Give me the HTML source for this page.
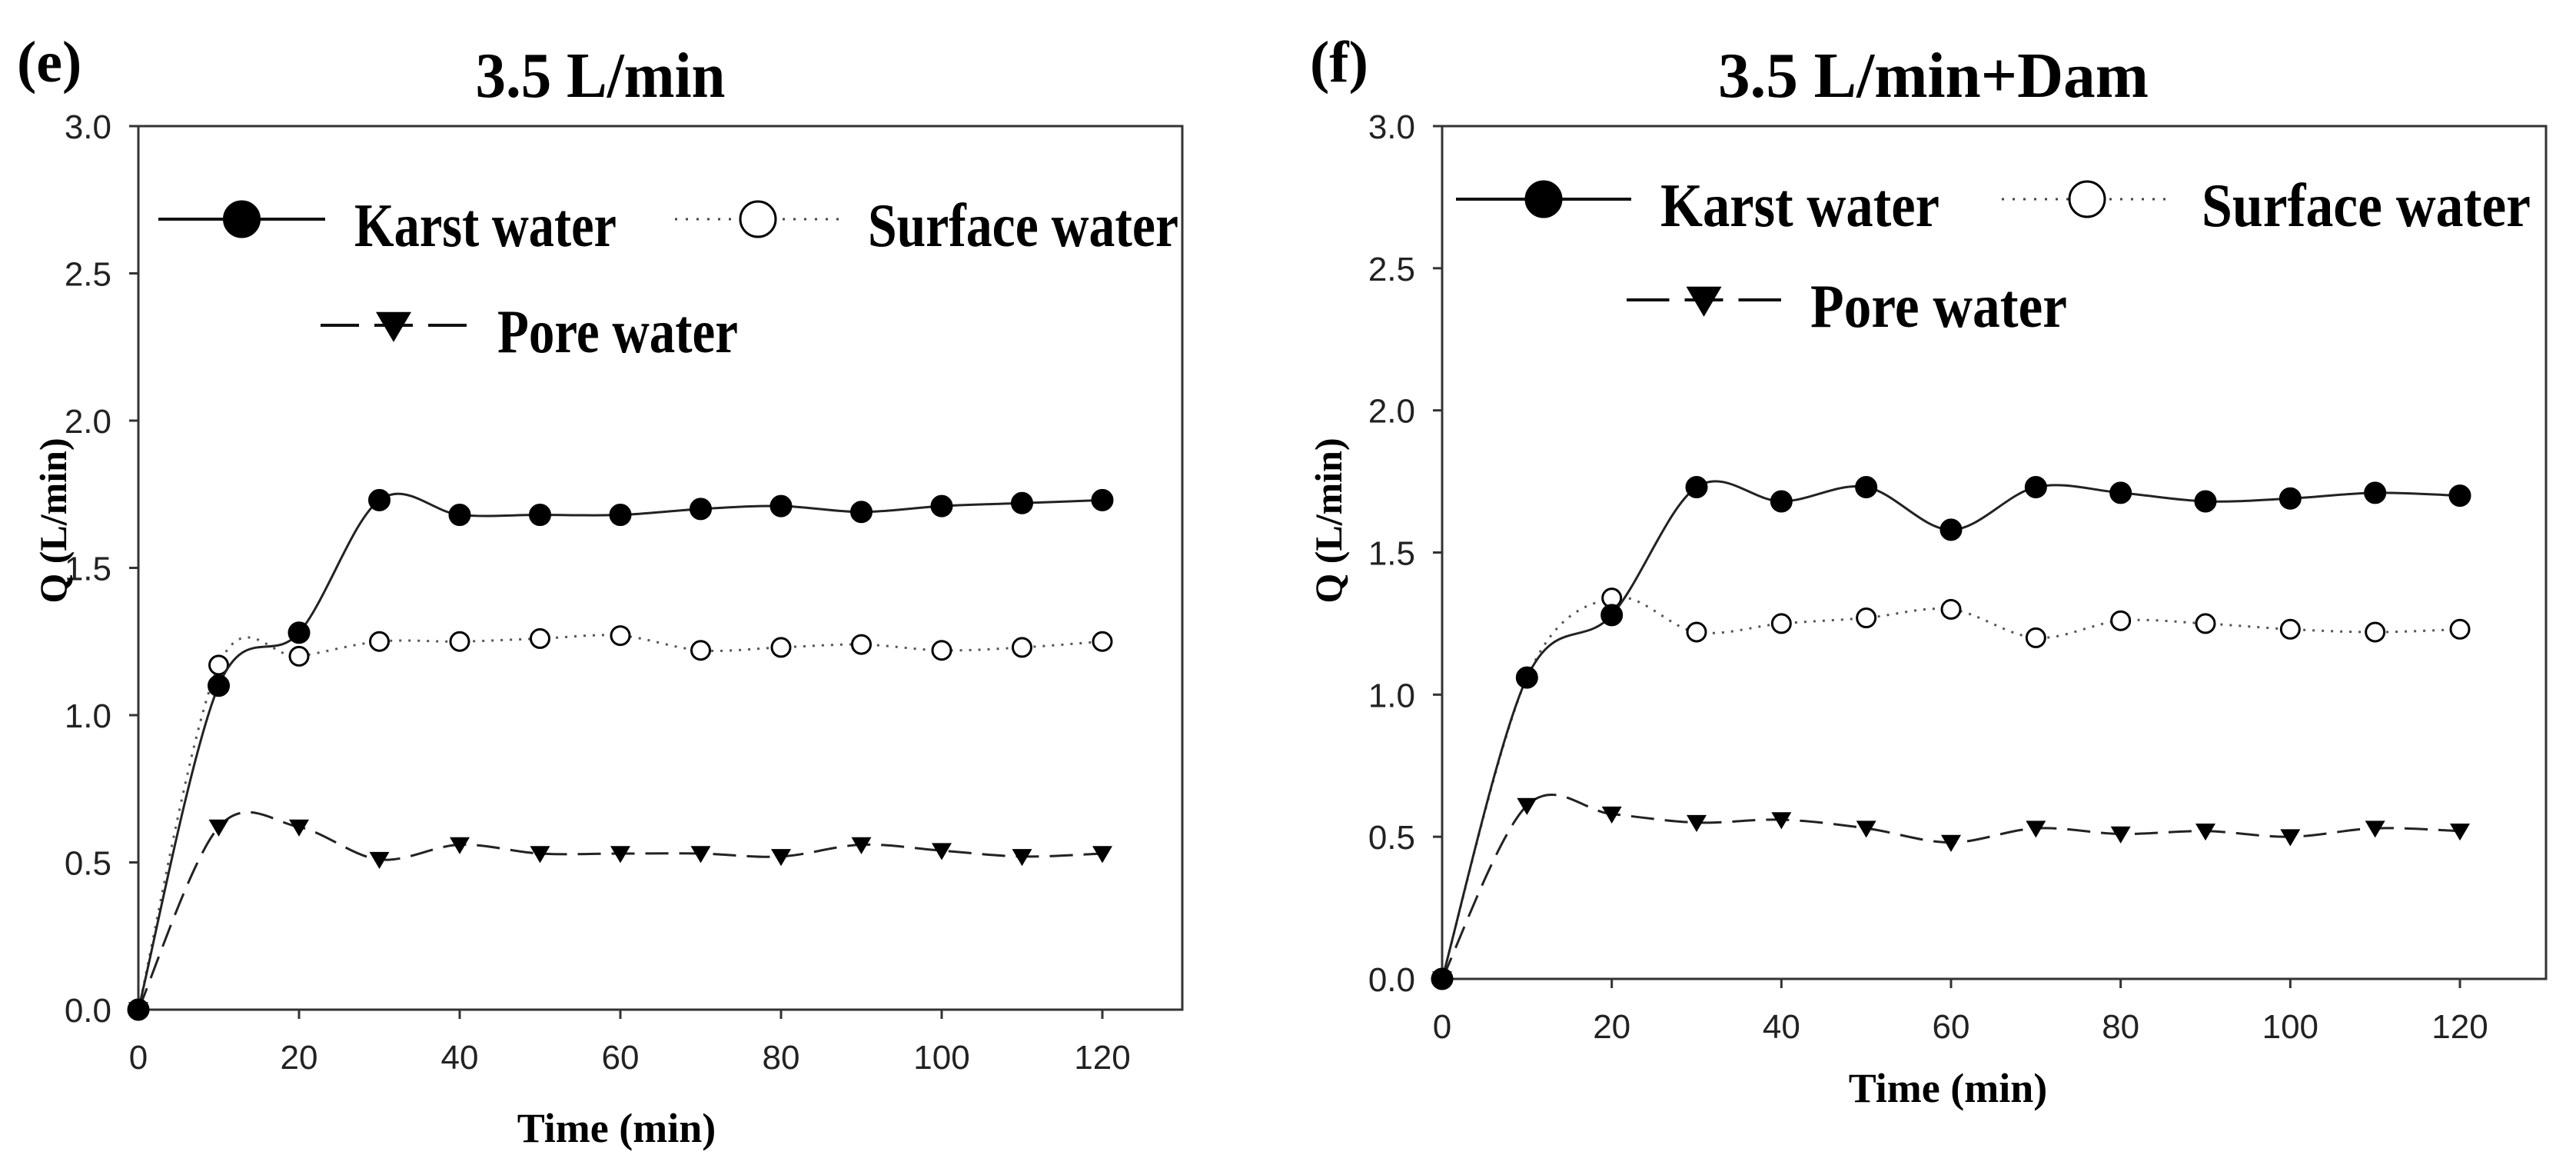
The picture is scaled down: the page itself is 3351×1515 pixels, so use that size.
<!DOCTYPE html>
<html><head><meta charset="utf-8"><style>
html,body{margin:0;padding:0;background:#fff;}
svg{display:block;}
.tick{font-family:"Liberation Sans",Arial,sans-serif;font-size:44px;fill:#222;}
.bold{font-family:"Liberation Serif","Times New Roman",serif;font-weight:bold;fill:#000;}
</style></head><body>
<svg id="chart" width="3351" height="1515" viewBox="0 0 3351 1515" xmlns="http://www.w3.org/2000/svg"></svg>
<script>
const times = [0,10,20,30,40,50,60,70,80,90,100,110,120];
const karstE = [0,1.10,1.28,1.73,1.68,1.68,1.68,1.70,1.71,1.69,1.71,1.72,1.73];
const surfaceE = [0,1.17,1.20,1.25,1.25,1.26,1.27,1.22,1.23,1.24,1.22,1.23,1.25];
const poreE = [0,0.62,0.62,0.51,0.56,0.53,0.53,0.53,0.52,0.56,0.54,0.52,0.53];
const karstF = [0,1.06,1.28,1.73,1.68,1.73,1.58,1.73,1.71,1.68,1.69,1.71,1.70];
const surfaceF = [0,1.06,1.34,1.22,1.25,1.27,1.30,1.20,1.26,1.25,1.23,1.22,1.23];
const poreF = [0,0.61,0.58,0.55,0.56,0.53,0.48,0.53,0.51,0.52,0.50,0.53,0.52];
const xTicks = [0,20,40,60,80,100,120];
const yTicks = [0.0,0.5,1.0,1.5,2.0,2.5,3.0];

const NS = "http://www.w3.org/2000/svg";
const svg = document.getElementById('chart');
function mk(tag, attrs, parent){
  const e = document.createElementNS(NS, tag);
  for (const k in attrs) e.setAttribute(k, attrs[k]);
  (parent||svg).appendChild(e);
  return e;
}
function spline(pts){
  let d = `M${pts[0][0]},${pts[0][1]}`;
  for (let i=0;i<pts.length-1;i++){
    const p0=pts[Math.max(0,i-1)], p1=pts[i], p2=pts[i+1], p3=pts[Math.min(pts.length-1,i+2)];
    const c1=[p1[0]+(p2[0]-p0[0])/6, p1[1]+(p2[1]-p0[1])/6];
    const c2=[p2[0]-(p3[0]-p1[0])/6, p2[1]-(p3[1]-p1[1])/6];
    d += ` C${c1[0]},${c1[1]} ${c2[0]},${c2[1]} ${p2[0]},${p2[1]}`;
  }
  return d;
}
function circle(g,x,y,r,filled){
  return mk('circle',{cx:x,cy:y,r:r,fill:filled?'#000':'#fff',stroke:'#000','stroke-width':3},g);
}
function tri(g,x,y,s){
  return mk('path',{d:`M${x-s},${y-s*0.75} L${x+s},${y-s*0.75} L${x},${y+s*0.95} Z`,fill:'#000'},g);
}

function panel(cfg){
  const g = mk('g',{});
  
  
  const X = v => cfg.x0 + (v/120)*(cfg.x120-cfg.x0);
  const Y = v => cfg.y0 - (v/3)*(cfg.y0-cfg.y3);
  const fr = mk('rect',{x:cfg.x0,y:cfg.y3,width:cfg.right-cfg.x0,height:cfg.y0-cfg.y3,fill:'none',stroke:'#333','stroke-width':3},g);
  
  
  xTicks.forEach(t=>{
    mk('line',{x1:X(t),x2:X(t),y1:cfg.y0,y2:cfg.y0+12,stroke:'#333','stroke-width':3},g);
    const tx = mk('text',{x:X(t),y:cfg.y0+77,'text-anchor':'middle',class:'tick'},g);
    tx.textContent = t;
    
    
  });
  yTicks.forEach(t=>{
    mk('line',{x1:cfg.x0-12,x2:cfg.x0,y1:Y(t),y2:Y(t),stroke:'#333','stroke-width':3},g);
    const ty = mk('text',{x:cfg.x0-35,y:Y(t)+16,'text-anchor':'end',class:'tick'},g);
    ty.textContent = t.toFixed(1);
    
    
  });
  const series = [
    {v:cfg.surface, dash:'3 9', name:'surface-water-series', kind:'open'},
    {v:cfg.pore, dash:'30 14', name:'pore-water-series', kind:'tri'},
    {v:cfg.karst, dash:'', name:'karst-water-series', kind:'fill'}
  ];
  series.forEach(s=>{
    const sg = mk('g',{},g);
    
    
    const pts = times.map((t,i)=>[X(t),Y(s.v[i])]);
    const a = {d:spline(pts),fill:'none',stroke:s.kind==='open'?'#555':'#222','stroke-width':3};
    if (s.dash) a['stroke-dasharray']=s.dash;
    mk('path',a,sg);
    pts.forEach(p=>{
      let m;
      if (s.kind==='fill') m = circle(sg,p[0],p[1],13,true);
      else if (s.kind==='open') m = circle(sg,p[0],p[1],12,false);
      else m = tri(sg,p[0],p[1],13);
      
      
    });
  });
  const lab = mk('text',{x:cfg.labX,y:106,class:'bold','font-size':76},g);
  lab.textContent = cfg.label;
  
  
  const ti = mk('text',{x:cfg.titleX,y:126,class:'bold','font-size':84,'text-anchor':'middle',textLength:cfg.titleW,lengthAdjust:'spacingAndGlyphs'},g);
  ti.textContent = cfg.title;
  
  
  const yt = mk('text',{x:0,y:0,class:'bold','font-size':50,'text-anchor':'middle',transform:`translate(${cfg.yTitleX},677) rotate(-90)`},g);
  yt.textContent = 'Q (L/min)';
  
  
  const xt = mk('text',{x:cfg.xTitleX,y:cfg.y0+cfg.xTitleDy,class:'bold','font-size':54,'text-anchor':'middle'},g);
  xt.textContent = 'Time (min)';
  
  
  const L = cfg.leg;
  const lg = mk('g',{},g);
  
  
  const e1 = mk('g',{},lg);
  
  
  mk('line',{x1:L.k[0],x2:L.k[1],y1:L.r1,y2:L.r1,stroke:'#111','stroke-width':4},e1);
  circle(e1,(L.k[0]+L.k[1])/2,L.r1,23,true);
  const t1 = mk('text',{x:L.k[2],y:L.r1+35,class:'bold','font-size':80,textLength:L.k[3]-L.k[2],lengthAdjust:'spacingAndGlyphs'},e1);
  t1.textContent='Karst water';
  const e2 = mk('g',{},lg);
  
  
  mk('line',{x1:L.s[0],x2:L.s[1],y1:L.r1,y2:L.r1,stroke:'#444','stroke-width':3,'stroke-dasharray':'3 11'},e2);
  circle(e2,(L.s[0]+L.s[1])/2,L.r1,23,false);
  const t2 = mk('text',{x:L.s[2],y:L.r1+35,class:'bold','font-size':80,textLength:L.s[3]-L.s[2],lengthAdjust:'spacingAndGlyphs'},e2);
  t2.textContent='Surface water';
  const e3 = mk('g',{},lg);
  
  
  const pm = (L.p[0]+L.p[1])/2;
  mk('line',{x1:L.p[0],x2:pm-45,y1:L.r2,y2:L.r2,stroke:'#111','stroke-width':4},e3);
  mk('line',{x1:pm-25,x2:pm+25,y1:L.r2,y2:L.r2,stroke:'#111','stroke-width':4},e3);
  mk('line',{x1:pm+45,x2:L.p[1],y1:L.r2,y2:L.r2,stroke:'#111','stroke-width':4},e3);
  tri(e3,pm,L.r2,23);
  const t3 = mk('text',{x:L.p[2],y:L.r2+35,class:'bold','font-size':80,textLength:L.p[3]-L.p[2],lengthAdjust:'spacingAndGlyphs'},e3);
  t3.textContent='Pore water';
}

panel({name:'panel-e', x0:180, x120:1434, right:1538, y0:1313, y3:164,
  karst:karstE, surface:surfaceE, pore:poreE,
  label:'(e)', labX:22, title:'3.5 L/min', titleX:781, titleW:325,
  yTitleX:86, xTitleX:802, xTitleDy:172,
  leg:{r1:285, r2:423, k:[206,423,461,802], s:[878,1094,1129,1533], p:[417,607,647,960]}});
panel({name:'panel-f', x0:1876, x120:3200, right:3312, y0:1273, y3:164,
  karst:karstF, surface:surfaceF, pore:poreF,
  label:'(f)', labX:1704, title:'3.5 L/min+Dam', titleX:2515, titleW:560,
  yTitleX:1745, xTitleX:2534, xTitleDy:160,
  leg:{r1:259, r2:390, k:[1894,2122,2160,2523], s:[2604,2826,2864,3292], p:[2116,2317,2355,2689]}});
</script>
</body></html>
